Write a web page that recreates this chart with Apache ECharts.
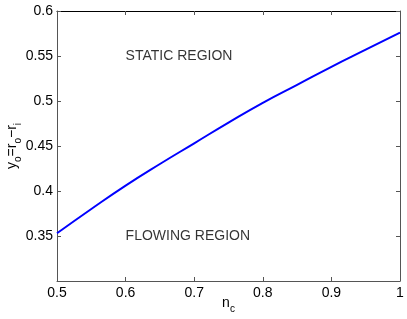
<!DOCTYPE html>
<html><head><meta charset="utf-8">
<script src="https://cdn.jsdelivr.net/npm/echarts@6/dist/echarts.min.js"></script>
<style>html,body{margin:0;padding:0;background:#fff}#c{width:407px;height:319px}</style>
</head><body><div id="c"></div>
<script>
const nc = [0.5, 0.55, 0.6, 0.65, 0.7, 0.75, 0.8, 0.85, 0.9, 0.95, 1.0];
const yo = [0.353, 0.380, 0.406, 0.430, 0.453, 0.476, 0.498, 0.518, 0.538, 0.557, 0.576];
const regionLabels = ['STATIC REGION', 'FLOWING REGION'];
const regionX = [0.6, 0.6];
const regionY = [0.55, 0.35];

const font = 'Liberation Sans, Arial, Helvetica, sans-serif';
const axLine = { lineStyle: { color: '#555', width: 1 } };
const chart = echarts.init(document.getElementById('c'), null, { renderer: 'canvas' });
chart.setOption({
  animation: false,
  grid: { left: 57, right: 7, top: 11, bottom: 38, containLabel: false, outerBoundsMode: 'none' },
  xAxis: [{
    type: 'value', min: 0.5, max: 1, interval: 0.1,
    axisLine: axLine, splitLine: { show: false },
    axisTick: { inside: true, length: 4, lineStyle: { color: '#555' } },
    axisLabel: { color: '#000', fontSize: 14, fontFamily: font, margin: 5,
      formatter: v => (Math.round(v * 10) / 10).toString() },
    name: '{a|n}{s|c}', nameLocation: 'middle', nameGap: 15, nameMoveOverlap: false,
    nameTextStyle: { rich: {
      a: { fontSize: 14, fontFamily: font, color: '#000', verticalAlign: 'top', lineHeight: 18 },
      s: { fontSize: 10, fontFamily: font, color: '#000', verticalAlign: 'bottom', lineHeight: 18, padding: [8, 0, 0, 0] }
    } }
  }, {
    type: 'value', position: 'top', min: 0.5, max: 1, interval: 0.1,
    axisLine: { show: true, lineStyle: { color: '#000', width: 1 } }, splitLine: { show: false },
    axisTick: { inside: true, length: 4, lineStyle: { color: '#555' } },
    axisLabel: { show: false }
  }],
  yAxis: [{
    type: 'value', min: 0.3, max: 0.6, interval: 0.05,
    axisLine: { show: true, lineStyle: { color: '#555', width: 1 } }, splitLine: { show: false },
    axisTick: { inside: true, length: 4, lineStyle: { color: '#555' } },
    axisLabel: { color: '#000', fontSize: 14, fontFamily: font, margin: 4, showMinLabel: false,
      formatter: v => (Math.round(v * 100) / 100).toString() },
    name: '{a|y}{s|o}{a|=r}{s|o}{a|−r}{s|i}', nameLocation: 'middle', nameGap: 34, nameRotate: 90, nameMoveOverlap: false,
    nameTextStyle: { rich: {
      a: { fontSize: 14, fontFamily: font, color: '#000', verticalAlign: 'top', lineHeight: 18 },
      s: { fontSize: 10, fontFamily: font, color: '#000', verticalAlign: 'bottom', lineHeight: 18, padding: [8, 0, 0, 0] }
    } }
  }, {
    type: 'value', position: 'right', min: 0.3, max: 0.6, interval: 0.05,
    axisLine: { show: true, lineStyle: { color: '#555', width: 1 } }, splitLine: { show: false },
    axisTick: { inside: true, length: 4, lineStyle: { color: '#555' } },
    axisLabel: { show: false }
  }],
  series: [{
    type: 'line', data: nc.map((x, i) => [x, yo[i]]), showSymbol: false, smooth: true,
    lineStyle: { color: '#0000ff', width: 2 }, xAxisIndex: 0, yAxisIndex: 0
  }, {
    type: 'scatter', symbolSize: 0, xAxisIndex: 0, yAxisIndex: 0,
    data: regionLabels.map((t, i) => ({ value: [regionX[i], regionY[i]], name: t })),
    label: { show: true, position: 'right', distance: 0, formatter: p => p.name,
      color: '#000', fontSize: 14, fontFamily: font }
  }]
});
</script></body></html>
